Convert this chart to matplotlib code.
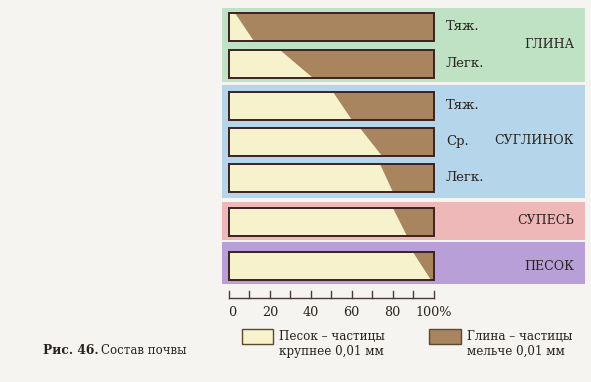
import matplotlib
matplotlib.use("Agg")
import matplotlib.pyplot as plt
from matplotlib.patches import Rectangle, Polygon

# ---------------- data ----------------
group_names = ["ГЛИНА", "СУГЛИНОК", "СУПЕСЬ", "ПЕСОК"]
subtype_labels = ["Тяж.", "Легк.", "Тяж.", "Ср.", "Легк.", "", ""]
bar_group = [0, 0, 1, 1, 1, 2, 3]
# share of sand (%) at the top and bottom edge of each bar (slanted boundary)
sand_top = [3, 25, 51, 64, 74, 80, 90]
sand_bottom = [12, 41, 60, 75, 80, 87, 99]
tick_values = [0, 10, 20, 30, 40, 50, 60, 70, 80, 90, 100]
tick_label_values = [0, 20, 40, 60, 80, 100]
tick_label_texts = ["0", "20", "40", "60", "80", "100%"]
legend_texts = ["Песок – частицы\nкрупнее 0,01 мм", "Глина – частицы\nмельче 0,01 мм"]
caption_bold = "Рис. 46."
caption_text = "Состав почвы"

# ---------------- layout / style ----------------
W, H = 591, 382
PX0 = 229.0        # pixel of 0 %
PXP = 2.045        # pixels per percent
bar_centers = [27, 63.5, 105.5, 141.5, 177.5, 221.5, 266]   # px
bar_h = 28
group_bands = [(8, 82), (85, 198), (202, 240), (242, 284)]   # px
group_label_y = [45, 140, 220, 266]
band_colors = ["#bfe2c4", "#b5d5ea", "#eeb7b8", "#b89fd8"]
sand_color = "#f5f2cc"
clay_color = "#a8855f"
edge_color = "#3b2222"
page_color = "#f5f4f0"
text_color = "#2a2420"
FONT = "DejaVu Serif"

def px(x):
    return (x - PX0) / PXP

fig = plt.figure(figsize=(W / 100, H / 100), dpi=100)
fig.patch.set_facecolor(page_color)
ax = fig.add_axes([0, 0, 1, 1])
ax.set_xlim(px(0), px(W))
ax.set_ylim(H, 0)
ax.axis("off")

band_x0, band_x1 = px(222), px(585)
for (y0, y1), c in zip(group_bands, band_colors):
    ax.add_patch(Rectangle((band_x0, y0), band_x1 - band_x0, y1 - y0,
                           facecolor=c, edgecolor="none", zorder=1))

for g, name in enumerate(group_names):
    ax.text(px(574), group_label_y[g], name, ha="right", va="center",
            fontsize=9, family=FONT, color=text_color, zorder=5)

for i, yc in enumerate(bar_centers):
    top, bot = yc - bar_h / 2, yc + bar_h / 2
    st, sb = sand_top[i], sand_bottom[i]
    ax.add_patch(Polygon([(0, top), (st, top), (sb, bot), (0, bot)],
                         closed=True, facecolor=sand_color, edgecolor="none", zorder=2))
    ax.add_patch(Polygon([(st, top), (100, top), (100, bot), (sb, bot)],
                         closed=True, facecolor=clay_color, edgecolor="none", zorder=2))
    ax.add_patch(Rectangle((0, top), 100, bar_h, facecolor="none",
                           edgecolor=edge_color, lw=1.4, zorder=3))
    if subtype_labels[i]:
        ax.text(px(446), yc, subtype_labels[i], ha="left", va="center",
                fontsize=9.5, family=FONT, color=text_color, zorder=5)

# axis
axis_y = 298
ax.plot([0, 100], [axis_y, axis_y], color="#4a3a3a", lw=1.0, zorder=4)
for t in tick_values:
    ax.plot([t, t], [axis_y, axis_y - 7], color="#4a3a3a", lw=1.0, zorder=4)
for v, s in zip(tick_label_values, tick_label_texts):
    ax.text(v + (1.8 if v == 0 else 0), 312, s, ha="center", va="center",
            fontsize=9.2, family=FONT, color=text_color)

# legend
ax.add_patch(Rectangle((px(242), 329), px(273) - px(242), 15,
                       facecolor=sand_color, edgecolor="#5a4a30", lw=1.0))
ax.text(px(279), 344, legend_texts[0], ha="left", va="center",
        fontsize=8.6, family=FONT, color=text_color, linespacing=1.2)
ax.add_patch(Rectangle((px(429), 329), px(461) - px(429), 15,
                       facecolor=clay_color, edgecolor="#5a4a30", lw=1.0))
ax.text(px(467), 344, legend_texts[1], ha="left", va="center",
        fontsize=8.6, family=FONT, color=text_color, linespacing=1.2)

# caption
t1 = ax.text(px(43), 350, caption_bold + " ", ha="left", va="center",
             fontsize=8.8, family=FONT, weight="bold", color=text_color)
fig.canvas.draw()
bb = t1.get_window_extent()
x_next = ax.transData.inverted().transform((bb.x1 - 2, 0))[0]
ax.text(x_next, 350, caption_text, ha="left", va="center",
        fontsize=8.5, family=FONT, color=text_color)

fig.savefig("out.png", dpi=100, facecolor=page_color)
